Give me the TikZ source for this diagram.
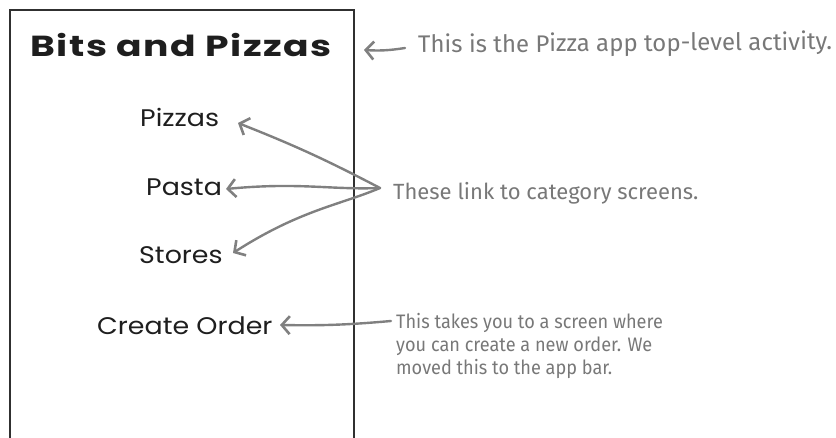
\documentclass[tikz,border=0pt]{standalone}
\usepackage{fontspec}
\usetikzlibrary{arrows.meta}
\newfontfamily\titlefont[FakeStretch=1.3,LetterSpace=5]{Poppins}
\newfontfamily\itemfont[FakeStretch=1.12]{Poppins}
\newfontfamily\notefont{Fira Sans}
\newfontfamily\smallnotefont[FakeStretch=0.93]{Fira Sans}
\definecolor{notegray}{HTML}{787878}
\definecolor{arrowgray}{HTML}{808080}
\definecolor{boxline}{HTML}{303030}
\definecolor{itemink}{HTML}{1E1E1E}
\tikzset{
  titletext/.style={anchor=base, inner sep=0pt, font=\titlefont\bfseries\fontsize{29}{32}\selectfont, text=itemink},
  itemtext/.style={anchor=base west, inner sep=0pt, font=\itemfont\fontsize{24}{28}\selectfont, text=itemink},
  notetext/.style={anchor=base west, inner sep=0pt, font=\notefont\fontsize{22}{26}\selectfont, text=notegray, align=left},
  bignote/.style={notetext, font=\notefont\fontsize{24}{28}\selectfont},
  smallnote/.style={notetext, font=\smallnotefont\fontsize{19.5}{23.5}\selectfont},
  pointer/.style={draw=arrowgray, line width=2.4pt, line cap=round,
    -{Straight Barb[length=8pt,width=18pt,line width=2.6pt]}}
}
\begin{document}
\begin{tikzpicture}[x=1pt,y=-1pt]
\useasboundingbox (0,0) rectangle (836,438);
% screen outline, open at bottom
\draw[boxline, line width=2pt] (10,440) -- (10,10) -- (354,10) -- (354,440);
% texts
\node[titletext] (title) at (181,57) {Bits and Pizzas};
\node[itemtext] (pizzas) at (140,127) {Pizzas};
\node[itemtext] (pasta) at (146,196) {Pasta};
\node[itemtext] (stores) at (139,264) {Stores};
\node[itemtext] (create) at (97,335) {Create Order};
\node[bignote, rotate=0.45] (n1) at (418,53) {This is the Pizza app top-level activity.};
\node[notetext] (n2) at (393,200) {These link to category screens.};
\node[smallnote] (n3) at (396,375) {This takes you to a screen where\\you can create a new order. We\\moved this to the app bar.};
% connector end points
\coordinate (s1) at (405,48);
\coordinate (t1) at (364,50);
\coordinate (hub) at (380,188);
\coordinate (tpz) at (238,123);
\coordinate (tpa) at (226,189);
\coordinate (tst) at (233,253);
\coordinate (s4) at (391,321);
\coordinate (tco) at (280,325);
% connectors
\draw[pointer] (s1) to[bend left=6] (t1);
\draw[pointer] (hub) to[bend right=3] (tpz);
\draw[pointer] (hub) .. controls (330,190) and (300,182) .. (tpa);
\draw[pointer] (hub) .. controls (340,205) and (300,210) .. (tst);
\draw[pointer] (s4) to[bend left=3] (tco);
\end{tikzpicture}
\end{document}
